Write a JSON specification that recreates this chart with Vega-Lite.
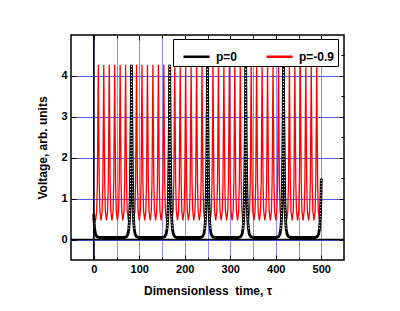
{
"$schema": "https://vega.github.io/schema/vega-lite/v6.json",
"width": 273, "height": 225,
"autosize": "none",
"padding": {"left": 71, "top": 35, "right": 56, "bottom": 51},
"background": "white",
"config": {"view": {"stroke": "black", "strokeWidth": 1.5}, "font": "Liberation Sans",
 "axis": {"labelFont": "Liberation Sans", "labelFontWeight": "bold", "labelFontSize": 11, "labelColor": "black",
  "titleFont": "Liberation Sans", "titleFontWeight": "bold", "titleFontSize": 12, "titleColor": "black",
  "domain": false, "tickColor": "black", "tickWidth": 1}},
"datasets": {
"red": [
{"t":0,"v":0.66},{"t":1.5,"v":0.52},{"t":4,"v":0.47},{"t":6.5,"v":0.68},{"t":8,"v":1.41},{"t":9,"v":2.77},
{"t":10,"v":4.27},{"t":11,"v":2.77},{"t":12,"v":1.41},{"t":13.5,"v":0.7},{"t":16,"v":0.47},{"t":18.5,"v":0.7},{"t":20,"v":1.41},{"t":21,"v":2.77},
{"t":22,"v":4.27},{"t":23,"v":2.77},{"t":24,"v":1.41},{"t":25.5,"v":0.7},{"t":28,"v":0.47},{"t":30.5,"v":0.7},{"t":32,"v":1.41},{"t":33,"v":2.77},
{"t":34,"v":4.27},{"t":35,"v":2.77},{"t":36,"v":1.41},{"t":37.5,"v":0.7},{"t":40,"v":0.47},{"t":42.5,"v":0.7},{"t":44,"v":1.41},{"t":45,"v":2.77},
{"t":46,"v":4.27},{"t":47,"v":2.77},{"t":48,"v":1.41},{"t":49.5,"v":0.7},{"t":52,"v":0.47},{"t":54.5,"v":0.7},{"t":56,"v":1.41},{"t":57,"v":2.77},
{"t":58,"v":4.27},{"t":59,"v":2.77},{"t":60,"v":1.41},{"t":61.5,"v":0.7},{"t":64,"v":0.47},{"t":66.5,"v":0.7},{"t":68,"v":1.41},{"t":69,"v":2.77},
{"t":70,"v":4.27},{"t":71,"v":2.77},{"t":72,"v":1.41},{"t":73.5,"v":0.7},{"t":76,"v":0.47},{"t":78.5,"v":0.7},{"t":80,"v":1.41},{"t":81,"v":2.77},
{"t":82,"v":4.27},{"t":83,"v":2.77},{"t":84,"v":1.41},{"t":85.5,"v":0.7},{"t":88,"v":0.47},{"t":90.5,"v":0.7},{"t":92,"v":1.41},{"t":93,"v":2.77},
{"t":94,"v":4.27},{"t":95,"v":2.77},{"t":96,"v":1.41},{"t":97.5,"v":0.7},{"t":100,"v":0.47},{"t":102.5,"v":0.7},{"t":104,"v":1.41},{"t":105,"v":2.77},
{"t":106,"v":4.27},{"t":107,"v":2.77},{"t":108,"v":1.41},{"t":109.5,"v":0.7},{"t":112,"v":0.47},{"t":114.5,"v":0.7},{"t":116,"v":1.41},{"t":117,"v":2.77},
{"t":118,"v":4.27},{"t":119,"v":2.77},{"t":120,"v":1.41},{"t":121.5,"v":0.7},{"t":124,"v":0.47},{"t":126.5,"v":0.7},{"t":128,"v":1.41},{"t":129,"v":2.77},
{"t":130,"v":4.27},{"t":131,"v":2.77},{"t":132,"v":1.41},{"t":133.5,"v":0.7},{"t":136,"v":0.47},{"t":138.5,"v":0.7},{"t":140,"v":1.41},{"t":141,"v":2.77},
{"t":142,"v":4.27},{"t":143,"v":2.77},{"t":144,"v":1.41},{"t":145.5,"v":0.7},{"t":148,"v":0.47},{"t":150.5,"v":0.7},{"t":152,"v":1.41},{"t":153,"v":2.77},
{"t":154,"v":4.27},{"t":155,"v":2.77},{"t":156,"v":1.41},{"t":157.5,"v":0.7},{"t":160,"v":0.47},{"t":162.5,"v":0.7},{"t":164,"v":1.41},{"t":165,"v":2.77},
{"t":166,"v":4.27},{"t":167,"v":2.77},{"t":168,"v":1.41},{"t":169.5,"v":0.7},{"t":172,"v":0.47},{"t":174.5,"v":0.7},{"t":176,"v":1.41},{"t":177,"v":2.77},
{"t":178,"v":4.27},{"t":179,"v":2.77},{"t":180,"v":1.41},{"t":181.5,"v":0.7},{"t":184,"v":0.47},{"t":186.5,"v":0.7},{"t":188,"v":1.41},{"t":189,"v":2.77},
{"t":190,"v":4.27},{"t":191,"v":2.77},{"t":192,"v":1.41},{"t":193.5,"v":0.7},{"t":196,"v":0.47},{"t":198.5,"v":0.7},{"t":200,"v":1.41},{"t":201,"v":2.77},
{"t":202,"v":4.27},{"t":203,"v":2.77},{"t":204,"v":1.41},{"t":205.5,"v":0.7},{"t":208,"v":0.47},{"t":210.5,"v":0.7},{"t":212,"v":1.41},{"t":213,"v":2.77},
{"t":214,"v":4.27},{"t":215,"v":2.77},{"t":216,"v":1.41},{"t":217.5,"v":0.7},{"t":220,"v":0.47},{"t":222.5,"v":0.7},{"t":224,"v":1.41},{"t":225,"v":2.77},
{"t":226,"v":4.27},{"t":227,"v":2.77},{"t":228,"v":1.41},{"t":229.5,"v":0.7},{"t":232,"v":0.47},{"t":234.5,"v":0.7},{"t":236,"v":1.41},{"t":237,"v":2.77},
{"t":238,"v":4.27},{"t":239,"v":2.77},{"t":240,"v":1.41},{"t":241.5,"v":0.7},{"t":244,"v":0.47},{"t":246.5,"v":0.7},{"t":248,"v":1.41},{"t":249,"v":2.77},
{"t":250,"v":4.27},{"t":251,"v":2.77},{"t":252,"v":1.41},{"t":253.5,"v":0.7},{"t":256,"v":0.47},{"t":258.5,"v":0.7},{"t":260,"v":1.41},{"t":261,"v":2.77},
{"t":262,"v":4.27},{"t":263,"v":2.77},{"t":264,"v":1.41},{"t":265.5,"v":0.7},{"t":268,"v":0.47},{"t":270.5,"v":0.7},{"t":272,"v":1.41},{"t":273,"v":2.77},
{"t":274,"v":4.27},{"t":275,"v":2.77},{"t":276,"v":1.41},{"t":277.5,"v":0.7},{"t":280,"v":0.47},{"t":282.5,"v":0.7},{"t":284,"v":1.41},{"t":285,"v":2.77},
{"t":286,"v":4.27},{"t":287,"v":2.77},{"t":288,"v":1.41},{"t":289.5,"v":0.7},{"t":292,"v":0.47},{"t":294.5,"v":0.7},{"t":296,"v":1.41},{"t":297,"v":2.77},
{"t":298,"v":4.27},{"t":299,"v":2.77},{"t":300,"v":1.41},{"t":301.5,"v":0.7},{"t":304,"v":0.47},{"t":306.5,"v":0.7},{"t":308,"v":1.41},{"t":309,"v":2.77},
{"t":310,"v":4.27},{"t":311,"v":2.77},{"t":312,"v":1.41},{"t":313.5,"v":0.7},{"t":316,"v":0.47},{"t":318.5,"v":0.7},{"t":320,"v":1.41},{"t":321,"v":2.77},
{"t":322,"v":4.27},{"t":323,"v":2.77},{"t":324,"v":1.41},{"t":325.5,"v":0.7},{"t":328,"v":0.47},{"t":330.5,"v":0.7},{"t":332,"v":1.41},{"t":333,"v":2.77},
{"t":334,"v":4.27},{"t":335,"v":2.77},{"t":336,"v":1.41},{"t":337.5,"v":0.7},{"t":340,"v":0.47},{"t":342.5,"v":0.7},{"t":344,"v":1.41},{"t":345,"v":2.77},
{"t":346,"v":4.27},{"t":347,"v":2.77},{"t":348,"v":1.41},{"t":349.5,"v":0.7},{"t":352,"v":0.47},{"t":354.5,"v":0.7},{"t":356,"v":1.41},{"t":357,"v":2.77},
{"t":358,"v":4.27},{"t":359,"v":2.77},{"t":360,"v":1.41},{"t":361.5,"v":0.7},{"t":364,"v":0.47},{"t":366.5,"v":0.7},{"t":368,"v":1.41},{"t":369,"v":2.77},
{"t":370,"v":4.27},{"t":371,"v":2.77},{"t":372,"v":1.41},{"t":373.5,"v":0.7},{"t":376,"v":0.47},{"t":378.5,"v":0.7},{"t":380,"v":1.41},{"t":381,"v":2.77},
{"t":382,"v":4.27},{"t":383,"v":2.77},{"t":384,"v":1.41},{"t":385.5,"v":0.7},{"t":388,"v":0.47},{"t":390.5,"v":0.7},{"t":392,"v":1.41},{"t":393,"v":2.77},
{"t":394,"v":4.27},{"t":395,"v":2.77},{"t":396,"v":1.41},{"t":397.5,"v":0.7},{"t":400,"v":0.47},{"t":402.5,"v":0.7},{"t":404,"v":1.41},{"t":405,"v":2.77},
{"t":406,"v":4.27},{"t":407,"v":2.77},{"t":408,"v":1.41},{"t":409.5,"v":0.7},{"t":412,"v":0.47},{"t":414.5,"v":0.7},{"t":416,"v":1.41},{"t":417,"v":2.77},
{"t":418,"v":4.27},{"t":419,"v":2.77},{"t":420,"v":1.41},{"t":421.5,"v":0.7},{"t":424,"v":0.47},{"t":426.5,"v":0.7},{"t":428,"v":1.41},{"t":429,"v":2.77},
{"t":430,"v":4.27},{"t":431,"v":2.77},{"t":432,"v":1.41},{"t":433.5,"v":0.7},{"t":436,"v":0.47},{"t":438.5,"v":0.7},{"t":440,"v":1.41},{"t":441,"v":2.77},
{"t":442,"v":4.27},{"t":443,"v":2.77},{"t":444,"v":1.41},{"t":445.5,"v":0.7},{"t":448,"v":0.47},{"t":450.5,"v":0.7},{"t":452,"v":1.41},{"t":453,"v":2.77},
{"t":454,"v":4.27},{"t":455,"v":2.77},{"t":456,"v":1.41},{"t":457.5,"v":0.7},{"t":460,"v":0.47},{"t":462.5,"v":0.7},{"t":464,"v":1.41},{"t":465,"v":2.77},
{"t":466,"v":4.27},{"t":467,"v":2.77},{"t":468,"v":1.41},{"t":469.5,"v":0.7},{"t":472,"v":0.47},{"t":474.5,"v":0.7},{"t":476,"v":1.41},{"t":477,"v":2.77},
{"t":478,"v":4.27},{"t":479,"v":2.77},{"t":480,"v":1.41},{"t":481.5,"v":0.7},{"t":484,"v":0.47},{"t":486.5,"v":0.7},{"t":488,"v":1.41},{"t":489,"v":2.77},
{"t":490,"v":4.27},{"t":491,"v":2.77},{"t":492,"v":1.41},{"t":493.5,"v":0.7},{"t":496,"v":0.47},{"t":498,"v":0.55}
],
"black": [
{"t":0,"v":0.62,"k":0},{"t":0.5,"v":0.49,"k":0},{"t":1,"v":0.4,"k":0},{"t":2,"v":0.26,"k":0},{"t":4,"v":0.13,"k":0},{"t":7,"v":0.07,"k":0},{"t":12,"v":0.05,"k":0},{"t":42,"v":0.05,"k":0},
{"t":67,"v":0.05,"k":1},{"t":72,"v":0.07,"k":1},{"t":75,"v":0.13,"k":1},{"t":77,"v":0.26,"k":1},{"t":78,"v":0.4,"k":1},{"t":79,"v":0.62,"k":1},{"t":79.5,"v":0.78,"k":1},{"t":80,"v":0.99,"k":1},{"t":80.4,"v":1.2,"k":1},{"t":80.7,"v":1.39,"k":1},{"t":81,"v":1.6,"k":1},{"t":81.2,"v":1.77,"k":1},{"t":81.4,"v":1.95,"k":1},{"t":81.6,"v":2.15,"k":1},{"t":81.8,"v":2.37,"k":1},{"t":82,"v":2.61,"k":1},{"t":82.2,"v":2.88,"k":1},{"t":82.4,"v":3.18,"k":1},{"t":82.6,"v":3.5,"k":1},{"t":82.8,"v":3.87,"k":1},{"t":83,"v":4.27,"k":1},{"t":83.2,"v":3.87,"k":1},{"t":83.4,"v":3.5,"k":1},{"t":83.6,"v":3.18,"k":1},{"t":83.8,"v":2.88,"k":1},{"t":84,"v":2.61,"k":1},{"t":84.2,"v":2.37,"k":1},{"t":84.4,"v":2.15,"k":1},{"t":84.6,"v":1.95,"k":1},{"t":84.8,"v":1.77,"k":1},{"t":85,"v":1.6,"k":1},{"t":85.3,"v":1.39,"k":1},{"t":85.6,"v":1.2,"k":1},{"t":86,"v":0.99,"k":1},{"t":86.5,"v":0.78,"k":1},{"t":87,"v":0.62,"k":1},{"t":88,"v":0.4,"k":1},{"t":89,"v":0.26,"k":1},{"t":91,"v":0.13,"k":1},{"t":94,"v":0.07,"k":1},{"t":99,"v":0.05,"k":1},{"t":125,"v":0.05,"k":1},
{"t":151,"v":0.05,"k":2},{"t":156,"v":0.07,"k":2},{"t":159,"v":0.13,"k":2},{"t":161,"v":0.26,"k":2},{"t":162,"v":0.4,"k":2},{"t":163,"v":0.62,"k":2},{"t":163.5,"v":0.78,"k":2},{"t":164,"v":0.99,"k":2},{"t":164.4,"v":1.2,"k":2},{"t":164.7,"v":1.39,"k":2},{"t":165,"v":1.6,"k":2},{"t":165.2,"v":1.77,"k":2},{"t":165.4,"v":1.95,"k":2},{"t":165.6,"v":2.15,"k":2},{"t":165.8,"v":2.37,"k":2},{"t":166,"v":2.61,"k":2},{"t":166.2,"v":2.88,"k":2},{"t":166.4,"v":3.18,"k":2},{"t":166.6,"v":3.5,"k":2},{"t":166.8,"v":3.87,"k":2},{"t":167,"v":4.27,"k":2},{"t":167.2,"v":3.87,"k":2},{"t":167.4,"v":3.5,"k":2},{"t":167.6,"v":3.18,"k":2},{"t":167.8,"v":2.88,"k":2},{"t":168,"v":2.61,"k":2},{"t":168.2,"v":2.37,"k":2},{"t":168.4,"v":2.15,"k":2},{"t":168.6,"v":1.95,"k":2},{"t":168.8,"v":1.77,"k":2},{"t":169,"v":1.6,"k":2},{"t":169.3,"v":1.39,"k":2},{"t":169.6,"v":1.2,"k":2},{"t":170,"v":0.99,"k":2},{"t":170.5,"v":0.78,"k":2},{"t":171,"v":0.62,"k":2},{"t":172,"v":0.4,"k":2},{"t":173,"v":0.26,"k":2},{"t":175,"v":0.13,"k":2},{"t":178,"v":0.07,"k":2},{"t":183,"v":0.05,"k":2},{"t":208.5,"v":0.05,"k":2},
{"t":234,"v":0.05,"k":3},{"t":239,"v":0.07,"k":3},{"t":242,"v":0.13,"k":3},{"t":244,"v":0.26,"k":3},{"t":245,"v":0.4,"k":3},{"t":246,"v":0.62,"k":3},{"t":246.5,"v":0.78,"k":3},{"t":247,"v":0.99,"k":3},{"t":247.4,"v":1.2,"k":3},{"t":247.7,"v":1.39,"k":3},{"t":248,"v":1.6,"k":3},{"t":248.2,"v":1.77,"k":3},{"t":248.4,"v":1.95,"k":3},{"t":248.6,"v":2.15,"k":3},{"t":248.8,"v":2.37,"k":3},{"t":249,"v":2.61,"k":3},{"t":249.2,"v":2.88,"k":3},{"t":249.4,"v":3.18,"k":3},{"t":249.6,"v":3.5,"k":3},{"t":249.8,"v":3.87,"k":3},{"t":250,"v":4.27,"k":3},{"t":250.2,"v":3.87,"k":3},{"t":250.4,"v":3.5,"k":3},{"t":250.6,"v":3.18,"k":3},{"t":250.8,"v":2.88,"k":3},{"t":251,"v":2.61,"k":3},{"t":251.2,"v":2.37,"k":3},{"t":251.4,"v":2.15,"k":3},{"t":251.6,"v":1.95,"k":3},{"t":251.8,"v":1.77,"k":3},{"t":252,"v":1.6,"k":3},{"t":252.3,"v":1.39,"k":3},{"t":252.6,"v":1.2,"k":3},{"t":253,"v":0.99,"k":3},{"t":253.5,"v":0.78,"k":3},{"t":254,"v":0.62,"k":3},{"t":255,"v":0.4,"k":3},{"t":256,"v":0.26,"k":3},{"t":258,"v":0.13,"k":3},{"t":261,"v":0.07,"k":3},{"t":266,"v":0.05,"k":3},{"t":292,"v":0.05,"k":3},
{"t":318,"v":0.05,"k":4},{"t":323,"v":0.07,"k":4},{"t":326,"v":0.13,"k":4},{"t":328,"v":0.26,"k":4},{"t":329,"v":0.4,"k":4},{"t":330,"v":0.62,"k":4},{"t":330.5,"v":0.78,"k":4},{"t":331,"v":0.99,"k":4},{"t":331.4,"v":1.2,"k":4},{"t":331.7,"v":1.39,"k":4},{"t":332,"v":1.6,"k":4},{"t":332.2,"v":1.77,"k":4},{"t":332.4,"v":1.95,"k":4},{"t":332.6,"v":2.15,"k":4},{"t":332.8,"v":2.37,"k":4},{"t":333,"v":2.61,"k":4},{"t":333.2,"v":2.88,"k":4},{"t":333.4,"v":3.18,"k":4},{"t":333.6,"v":3.5,"k":4},{"t":333.8,"v":3.87,"k":4},{"t":334,"v":4.27,"k":4},{"t":334.2,"v":3.87,"k":4},{"t":334.4,"v":3.5,"k":4},{"t":334.6,"v":3.18,"k":4},{"t":334.8,"v":2.88,"k":4},{"t":335,"v":2.61,"k":4},{"t":335.2,"v":2.37,"k":4},{"t":335.4,"v":2.15,"k":4},{"t":335.6,"v":1.95,"k":4},{"t":335.8,"v":1.77,"k":4},{"t":336,"v":1.6,"k":4},{"t":336.3,"v":1.39,"k":4},{"t":336.6,"v":1.2,"k":4},{"t":337,"v":0.99,"k":4},{"t":337.5,"v":0.78,"k":4},{"t":338,"v":0.62,"k":4},{"t":339,"v":0.4,"k":4},{"t":340,"v":0.26,"k":4},{"t":342,"v":0.13,"k":4},{"t":345,"v":0.07,"k":4},{"t":350,"v":0.05,"k":4},{"t":375.5,"v":0.05,"k":4},
{"t":401,"v":0.05,"k":5},{"t":406,"v":0.07,"k":5},{"t":409,"v":0.13,"k":5},{"t":411,"v":0.26,"k":5},{"t":412,"v":0.4,"k":5},{"t":413,"v":0.62,"k":5},{"t":413.5,"v":0.78,"k":5},{"t":414,"v":0.99,"k":5},{"t":414.4,"v":1.2,"k":5},{"t":414.7,"v":1.39,"k":5},{"t":415,"v":1.6,"k":5},{"t":415.2,"v":1.77,"k":5},{"t":415.4,"v":1.95,"k":5},{"t":415.6,"v":2.15,"k":5},{"t":415.8,"v":2.37,"k":5},{"t":416,"v":2.61,"k":5},{"t":416.2,"v":2.88,"k":5},{"t":416.4,"v":3.18,"k":5},{"t":416.6,"v":3.5,"k":5},{"t":416.8,"v":3.87,"k":5},{"t":417,"v":4.27,"k":5},{"t":417.2,"v":3.87,"k":5},{"t":417.4,"v":3.5,"k":5},{"t":417.6,"v":3.18,"k":5},{"t":417.8,"v":2.88,"k":5},{"t":418,"v":2.61,"k":5},{"t":418.2,"v":2.37,"k":5},{"t":418.4,"v":2.15,"k":5},{"t":418.6,"v":1.95,"k":5},{"t":418.8,"v":1.77,"k":5},{"t":419,"v":1.6,"k":5},{"t":419.3,"v":1.39,"k":5},{"t":419.6,"v":1.2,"k":5},{"t":420,"v":0.99,"k":5},{"t":420.5,"v":0.78,"k":5},{"t":421,"v":0.62,"k":5},{"t":422,"v":0.4,"k":5},{"t":423,"v":0.26,"k":5},{"t":425,"v":0.13,"k":5},{"t":428,"v":0.07,"k":5},{"t":433,"v":0.05,"k":5},{"t":458,"v":0.05,"k":5},
{"t":486,"v":0.05,"k":6},{"t":491.2,"v":0.07,"k":6},{"t":494.2,"v":0.13,"k":6},{"t":496.2,"v":0.26,"k":6},{"t":497.2,"v":0.4,"k":6},{"t":498.2,"v":0.62,"k":6},{"t":498.7,"v":0.78,"k":6},{"t":499.2,"v":0.99,"k":6},{"t":499.6,"v":1.2,"k":6},{"t":500,"v":1.49,"k":6}
]
},
"resolve": {"axis": {"x": "independent", "y": "independent"}},
"layer": [
{
 "data": {"name": "red"},
 "mark": {"type": "line", "strokeWidth": 1.3, "clip": true},
 "encoding": {
  "x": {"field": "t", "type": "quantitative",
   "scale": {"domain": [-50, 550], "nice": false, "zero": false},
   "axis": {"orient": "bottom", "values": [0,50,100,150,200,250,300,350,400,450,500],
    "format": "d",
    "labelExpr": "datum.value % 100 === 0 ? datum.label : ''",
    "tickSize": {"condition": {"test": "datum.value % 100 === 0", "value": -5}, "value": -3},
    "labelPadding": 8, "labelFlush": false,
    "grid": true, "gridColor": "#8c8cff", "gridWidth": 1,
    "title": "Dimensionless\u00a0 time, τ", "titlePadding": 11}},
  "y": {"field": "v", "type": "quantitative",
   "scale": {"domain": [-0.5, 5], "nice": false, "zero": false},
   "axis": {"orient": "left", "values": [0,0.5,1,1.5,2,2.5,3,3.5,4,4.5],
    "format": "d",
    "labelExpr": "datum.value % 1 === 0 ? datum.label : ''",
    "tickSize": {"condition": {"test": "datum.value % 1 === 0", "value": -5}, "value": -3},
    "labelPadding": 9, "labelFlush": false,
    "grid": true, "gridColor": {"condition": {"test": "datum.value % 1 === 0", "value": "#5a5aff"}, "value": "#9a9aff"}, "gridWidth": 1,
    "title": "Voltage, arb. units", "titlePadding": 11}},
  "color": {"datum": "p=-0.9", "type": "nominal",
   "scale": {"domain": ["p=0", "p=-0.9"], "range": ["black", "#ff0000"]},
   "legend": {"orient": "none", "legendX": 102, "legendY": 4, "direction": "horizontal", "title": null,
    "symbolType": "stroke", "symbolSize": 680, "symbolStrokeWidth": 2.5, "symbolOffset": 6,
    "labelFontSize": 12, "labelFontWeight": "bold", "labelFont": "Liberation Sans", "labelColor": "black",
    "fillColor": "white", "strokeColor": "black", "padding": 3, "columnPadding": 21, "labelOffset": 5}}
 }
},
{
 "data": {"name": "black"},
 "mark": {"type": "line", "strokeWidth": 2.8, "clip": true},
 "encoding": {
  "x": {"field": "t", "type": "quantitative", "axis": null},
  "y": {"field": "v", "type": "quantitative", "axis": null},
  "color": {"datum": "p=0", "type": "nominal"}
 }
},
{
 "data": {"name": "black"},
 "transform": [{"filter": "datum.v > 0.2"}],
 "mark": {"type": "line", "strokeWidth": 1, "color": "white", "strokeDash": [1, 2], "clip": true},
 "encoding": {
  "x": {"field": "t", "type": "quantitative", "axis": null},
  "y": {"field": "v", "type": "quantitative", "axis": null},
  "detail": {"field": "k", "type": "nominal"}
 }
},
{
 "data": {"values": [{}]},
 "mark": {"type": "rule", "color": "black", "strokeWidth": 1.5},
 "encoding": {
  "x": {"datum": 0, "type": "quantitative",
   "axis": {"orient": "top", "values": [0,50,100,150,200,250,300,350,400,450,500], "labels": false, "grid": false, "title": null,
    "tickSize": {"condition": {"test": "datum.value % 100 === 0", "value": -5}, "value": -3}}}
 }
},
{
 "data": {"values": [{}]},
 "mark": {"type": "rule", "color": "black", "strokeWidth": 1.5},
 "encoding": {
  "y": {"datum": 0, "type": "quantitative",
   "axis": {"orient": "right", "values": [0,0.5,1,1.5,2,2.5,3,3.5,4,4.5], "labels": false, "grid": false, "title": null,
    "tickSize": {"condition": {"test": "datum.value % 1 === 0", "value": -5}, "value": -3}}}
 }
}
]
}
